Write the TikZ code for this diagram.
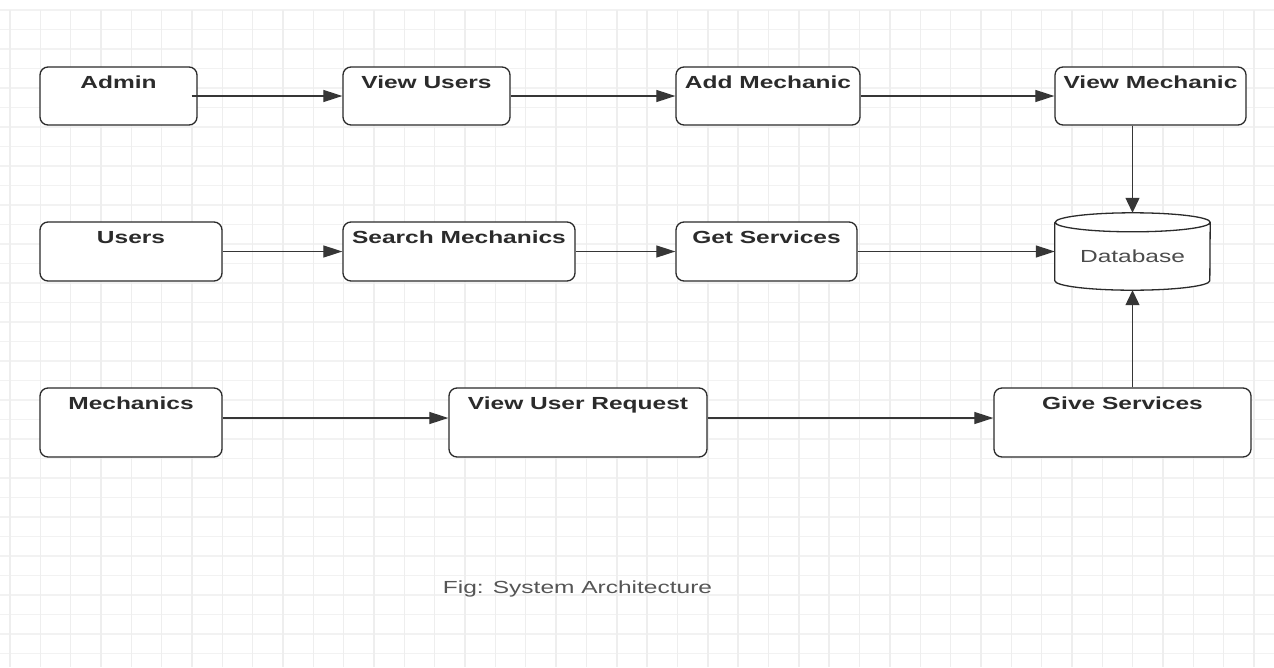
\documentclass[tikz,border=0pt]{standalone}
\usepackage{fontspec}
\setmainfont{Liberation Sans}
\usetikzlibrary{arrows.meta}

\definecolor{gridv}{HTML}{EEEEEE}
\definecolor{gridh}{HTML}{F2F2F2}
\definecolor{ink}{HTML}{2B2B2B}
\definecolor{wire}{HTML}{363636}
\definecolor{capt}{HTML}{555555}

% wide lettering used throughout the sheet
\newcommand{\wide}[1]{\scalebox{1.4}[1]{#1}}
\newcommand{\titlefont}{\fontsize{17.5}{20}\selectfont\bfseries}
\newcommand{\plainfont}{\fontsize{17.5}{20}\selectfont}

\begin{document}
\begin{tikzpicture}[x=1pt,y=-1pt,
  stage/.style 2 args={draw=ink, line width=1.3pt, rounded corners=8pt,
    fill=white, inner sep=0pt, minimum width=#1, minimum height=#2},
  title/.style={label={[font=\titlefont, text=ink, anchor=base,
    yshift=-22pt, inner sep=0pt]north:\wide{#1}}},
  flow/.style={draw=wire, line width=1.2pt,
    -{Triangle[length=19pt,width=12pt]}},
  drop/.style={draw=wire, line width=1.2pt,
    -{Triangle[length=15pt,width=14pt]}}
]
\useasboundingbox (0,0) rectangle (1274,667);
\fill[white] (0,0) rectangle (1274,667);

% background grid
\foreach \k in {0,...,33} {
  \pgfmathsetmacro{\gy}{10+19.5*\k}
  \draw[draw=gridh, line width=1.2pt] (0,\gy) -- (1274,\gy);
}
\foreach \k in {0,...,41} {
  \pgfmathsetmacro{\gx}{10+30.34*\k}
  \draw[draw=gridv, line width=1.4pt] (\gx,10) -- (\gx,667);
}

% admin row
\node[stage={157}{58}, title={Admin}] (admin) at (118.5,96) {};
\node[stage={167}{58}, title={View Users}] (vusers) at (426.5,96) {};
\node[stage={184}{58}, title={Add Mechanic}] (addm) at (768,96) {};
\node[stage={191}{58}, title={View Mechanic}] (viewm) at (1150.5,96) {};

% user row
\node[stage={182}{59}, title={Users}] (users) at (131,251.5) {};
\node[stage={232}{59}, title={Search Mechanics}] (search) at (459,251.5) {};
\node[stage={181}{59}, title={Get Services}] (gets) at (766.5,251.5) {};

% mechanic row
\node[stage={182}{69}, title={Mechanics}] (mech) at (131,422.5) {};
\node[stage={258}{69}, title={View User Request}] (vreq) at (578,422.5) {};
\node[stage={257}{69}, title={Give Services}] (gives) at (1122.5,422.5) {};

% database store: an outline-free frame carrying the cylinder drawn below
\node[minimum width=155pt, minimum height=77pt, inner sep=0pt] (db) at (1132.5,251.5) {};
\draw[draw=ink, line width=1.3pt, fill=white]
  ([yshift=-9.5pt]db.north west)
    -- ([yshift=9.5pt]db.south west)
    arc[start angle=180, end angle=360, x radius=77.5pt, y radius=9.5pt]
    -- ([yshift=-9.5pt]db.north east)
    arc[start angle=0, end angle=180, x radius=77.5pt, y radius=9.5pt]
    arc[start angle=180, end angle=360, x radius=77.5pt, y radius=9.5pt];
\node[font=\plainfont, text=ink!85, anchor=base, inner sep=0pt] (dbtext)
  at ([yshift=-10.5pt]db.center) {\wide{Database}};

% connectors
\draw[flow] ([xshift=-6pt]admin.east) -- (vusers.west);
\draw[flow] (vusers.east) -- (addm.west);
\draw[flow] (addm.east) -- (viewm.west);
\draw[drop] (db.north |- viewm.south) -- (db.north);

\draw[flow] (users.east) -- (search.west);
\draw[flow] (search.east) -- (gets.west);
\draw[flow] (gets.east) -- (gets.east -| db.west);

\draw[flow] ([yshift=4.5pt]mech.east) -- ([yshift=4.5pt]vreq.west);
\draw[flow] ([yshift=4.5pt]vreq.east) -- ([yshift=4.5pt]gives.west);
\draw[drop] (db.south |- gives.north) -- (db.south);

% caption
\node[font=\plainfont, text=capt, anchor=base, inner sep=0pt] (cap)
  at (577.5,593) {\wide{Fig: System Architecture}};
\end{tikzpicture}
\end{document}
